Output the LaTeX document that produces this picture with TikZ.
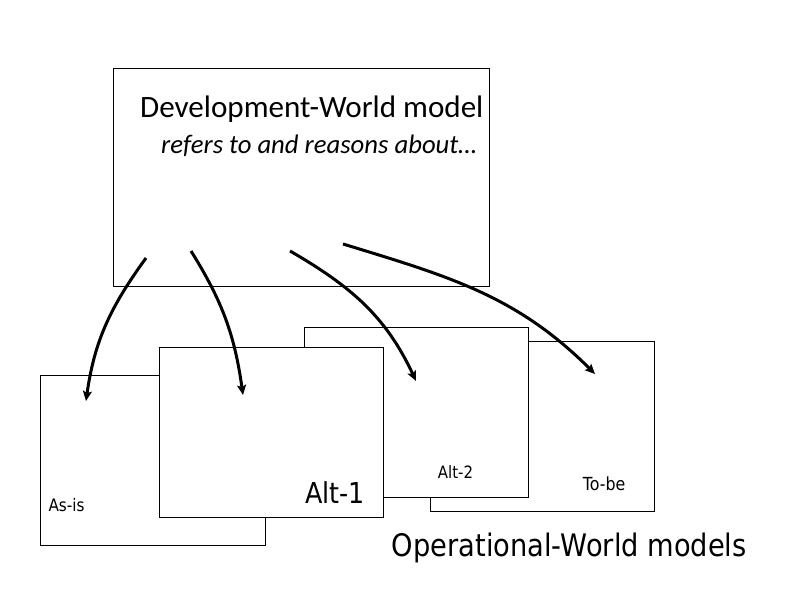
\documentclass[tikz,border=0pt]{standalone}
\usepackage{fontspec}
\setmainfont{Carlito}
\newfontfamily\tah[FakeStretch=0.88]{DejaVu Sans}
\usetikzlibrary{arrows.meta}
\begin{document}
\begin{tikzpicture}[x=1pt,y=-1pt,
  box/.style={draw, fill=white, line width=0.9pt, rectangle, anchor=north west, inner sep=0pt},
  lbl/.style={anchor=base west, inner sep=0pt},
  conn/.style={line width=3pt, -{Stealth[length=10pt,width=9pt,inset=2pt]}}]
\useasboundingbox (0,0) rectangle (792,612);
% boxes
\node[box, minimum width=376pt, minimum height=217pt] (dev) at (112.5,68.5) {};
\node[box, minimum width=224pt, minimum height=170pt] (tobe) at (429.5,340.5) {};
\node[box, minimum width=224pt, minimum height=170pt] (alt2) at (303.5,326.5) {};
\node[box, minimum width=225pt, minimum height=170pt] (asis) at (39.5,374.5) {};
\node[box, minimum width=224pt, minimum height=170pt] (alt1) at (158.5,346.5) {};
% labels
\node[lbl, font=\fontsize{31.1}{33}\selectfont] (devt) at (140,117.3) {Development-World model};
\node[lbl, font=\fontsize{26.7}{28}\selectfont\itshape] (devs) at (161,153.3) {refers to and reasons about…};
\node[lbl, font=\tah\fontsize{17.3}{18}\selectfont] (asist) at (48.3,511.7) {As-is};
\node[lbl, font=\tah\fontsize{28.8}{30}\selectfont] (alt1t) at (305,503.3) {Alt-1};
\node[lbl, font=\tah\fontsize{17}{18}\selectfont] (alt2t) at (437.7,478.3) {Alt-2};
\node[lbl, font=\tah\fontsize{18}{19}\selectfont] (tobet) at (582.7,490.7) {To-be};
\node[lbl, font=\tah\fontsize{31}{32}\selectfont] (opt) at (391.7,556.7) {Operational-World models};
% arrow end points
\coordinate (s1) at (146,258);
\coordinate (e1) at (86,401);
\coordinate (s2) at (191,251);
\coordinate (e2) at (243,395);
\coordinate (s3) at (290,251);
\coordinate (e3) at (416,381);
\coordinate (s4) at (343,244);
\coordinate (e4) at (595,374);
\draw[conn] (s1) to[out=-126, in=82] (e1);
\draw[conn] (s2) to[out=-58, in=98] (e2);
\draw[conn] (s3) to[out=-30, in=115] (e3);
\draw[conn] (s4) to[out=-17, in=135] (e4);
\end{tikzpicture}
\end{document}
